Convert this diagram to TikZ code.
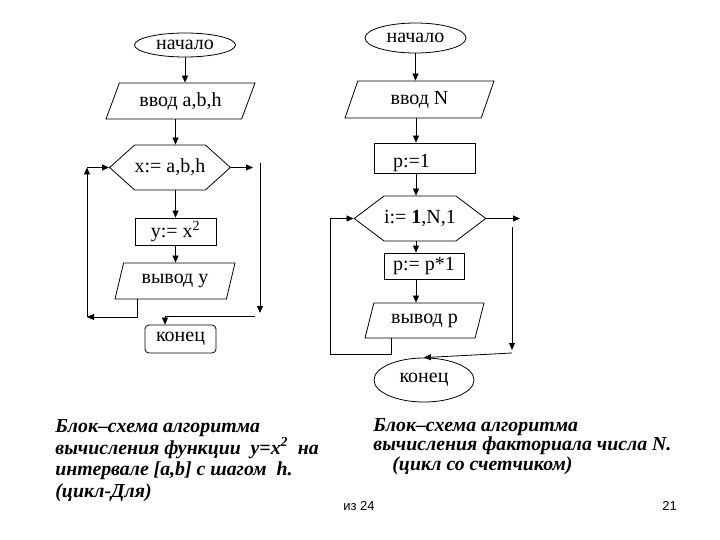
\documentclass[tikz,border=0pt]{standalone}
\usepackage{fontspec}
\setmainfont{Liberation Serif}
\newfontfamily\footfont{Liberation Sans}
\usetikzlibrary{shapes.geometric, shapes.symbols, arrows.meta}
\tikzstyle{startstop} = [ellipse, draw=black, minimum width=101pt,
  minimum height=26pt, inner sep=0pt]
\tikzstyle{io} = [trapezium, trapezium left angle=53, trapezium right angle=127,
  trapezium stretches body=true, draw=black, minimum height=36pt, inner sep=0pt]
\tikzstyle{process} = [rectangle, draw=black, inner sep=0pt]
\tikzstyle{loophead} = [signal, signal to=east and west, draw=black,
  minimum height=45pt, inner sep=0pt]
\tikzstyle{arrow} = [-{Triangle[length=7pt,width=6pt]}]

\begin{document}
\begin{tikzpicture}[x=1pt, y=-1pt, line width=0.8pt,
  every node/.style={font=\fontsize{20}{22}\selectfont},
  caption/.style={font=\fontsize{19.8}{21.5}\selectfont\bfseries\itshape,
    align=left, inner sep=0pt, anchor=base west},
  pagenum/.style={font=\footfont\fontsize{13}{15}\selectfont,
    inner sep=0pt, anchor=base west}]

\useasboundingbox (0,0) rectangle (720,540);

\node (start1) [startstop, minimum height=24pt] at (185,45) {начало};
\node (in1) [io, minimum width=149pt] at (180.5,101) {ввод a,b,h};
\node (for1) [loophead, minimum width=110pt, signal pointer angle=84]
  at (170,167.5) {x:= a,b,h};
\node (calc1) [process, minimum width=81pt, minimum height=27pt]
  at (175.5,231.5) {y:= x\textsuperscript{2}};
\node (out1) [io, minimum width=120pt, trapezium left angle=58,
  trapezium right angle=122] at (175,281) {вывод y};
\node (end1) [process, rounded corners=4pt, minimum width=71pt,
  minimum height=28pt] at (180.5,339) {конец};

\coordinate (lb) at (137,317);
\coordinate (lc) at (87,317);
\coordinate (lt) at (87,167.5);
\coordinate (rt) at (253,167.5);
\coordinate (rv) at (260,163);
\coordinate (rb) at (260,313);
\coordinate (rh) at (255,316);
\coordinate (rj) at (165,316);

\draw [arrow] (start1.south) -- (start1.south |- in1.north);
\draw [arrow] (in1.south -| calc1) -- (for1.north -| calc1);
\draw [arrow] (for1.south -| calc1) -- (calc1.north);
\draw [arrow] (calc1.south) -- (calc1.south |- out1.north);
\draw [arrow] (out1.south -| lb) -- (lb) -- (lc);
\draw [arrow] (lc) -- (lt);
\draw [arrow] (lt) -- (for1.west);
\draw [arrow] (for1.east) -- (rt);
\draw [arrow] (rv) -- (rb);
\draw [arrow] (rh) -- (rj) -- (rj |- end1.north);

\node (start2) [startstop, minimum height=30pt] at (415.5,38) {начало};
\node (in2) [io, minimum width=149pt, minimum height=37pt]
  at (419.5,99.5) {ввод N};
\node (init2) [process, minimum width=101pt, minimum height=30pt,
  text width=63pt, text height=22pt, text depth=2pt, align=left]
  at (424.5,158) {p:=1};
\node (for2) [loophead, minimum width=110pt, signal pointer angle=74]
  at (420,218.5) {i:= \textbf{1},N,1};
\node (calc2) [process, minimum width=80pt, minimum height=26pt]
  at (424,266) {p:= p*1};
\node (out2) [io, minimum width=119pt, minimum height=35pt,
  trapezium left angle=57, trapezium right angle=123]
  at (424.5,320.5) {вывод p};
\node (end2) [startstop, minimum width=100pt, minimum height=44pt]
  at (424,380) {конец};

\coordinate (col2) at (416,0);
\coordinate (mb) at (391,354);
\coordinate (mc) at (330,354);
\coordinate (nt) at (520,218.5);
\coordinate (nv) at (512,227);
\coordinate (nb) at (512,350);
\coordinate (nh) at (512,353);

\draw [arrow] (start2.south) -- (start2.south |- in2.north);
\draw [arrow] (in2.south -| col2) -- (init2.north -| col2);
\draw [arrow] (init2.south -| col2) -- (for2.north -| col2);
\draw [arrow] (for2.south -| col2) -- (calc2.north -| col2);
\draw [arrow] (calc2.south -| col2) -- (out2.north -| col2);
\draw [arrow] (out2.south -| mb) -- (mb) -- (mc) |- (for2.west);
\draw [arrow] (for2.east) -- (nt);
\draw [arrow] (nv) -- (nb);
\draw [arrow] (nh) -- (end2.north);

\node (cap1) [caption] at (55,497)
  {Блок–схема алгоритма\\
   вычисления функции~ y=x\textsuperscript{2}~ на\\
   интервале [a,b] с шагом~ h.\\
   (цикл-Для)};
\node (cap2) [caption, font=\fontsize{19.8}{19.5}\selectfont\bfseries\itshape]
  at (373,470)
  {Блок–схема алгоритма\\
   вычисления факториала числа N.\\
   \hspace*{19pt}(цикл со счетчиком)};

\node (pages) [pagenum] at (343,510) {из 24};
\node (slide) [pagenum] at (662,510) {21};

\end{tikzpicture}
\end{document}
